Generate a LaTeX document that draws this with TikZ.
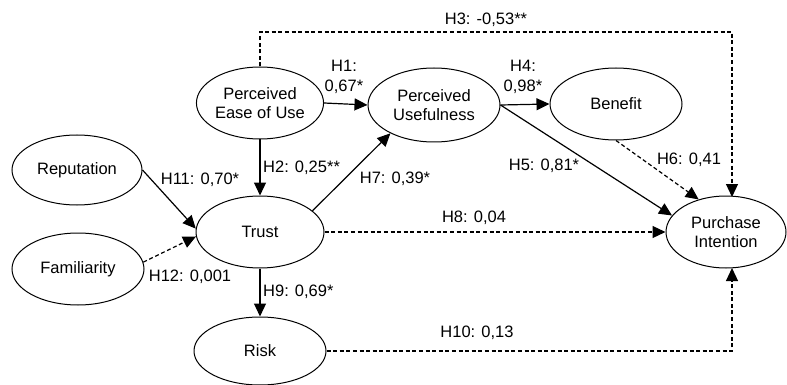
\documentclass[tikz,border=0pt]{standalone}
\usepackage{fontspec}
\setmainfont{Liberation Sans}
\usetikzlibrary{shapes.geometric,arrows.meta}
\begin{document}
\begin{tikzpicture}[x=1pt,y=-1pt,
  construct/.style={ellipse,draw,line width=1pt,inner sep=0pt,align=center,
    font=\fontsize{16.5}{19}\selectfont},
  lbl/.style={inner sep=0pt,align=center,font=\fontsize{16.5}{20}\selectfont},
  solidarr/.style={line width=1.2pt,-{Triangle[length=13pt,width=12pt]}},
  dasharr/.style={line width=1.2pt,dash pattern=on 4pt off 2.6pt,-{Triangle[length=13pt,width=12pt]}}
]
\useasboundingbox (0,0) rectangle (787,385);
% constructs
\node[construct,minimum width=126pt,minimum height=72pt] (peou) at (260,103) {Perceived\\Ease of Use};
\node[construct,minimum width=132pt,minimum height=74pt] (pu) at (434,105) {Perceived\\Usefulness};
\node[construct,minimum width=132pt,minimum height=72pt] (ben) at (616,104) {Benefit};
\node[construct,minimum width=120pt,minimum height=72pt] (pi) at (726,232) {Purchase\\Intention};
\node[construct,minimum width=130pt,minimum height=70pt] (rep) at (77,170) {Reputation};
\node[construct,minimum width=128pt,minimum height=72pt] (trust) at (260,232) {Trust};
\node[construct,minimum width=132pt,minimum height=72pt] (fam) at (78,269) {Familiarity};
\node[construct,minimum width=132pt,minimum height=68pt] (risk) at (260,351) {Risk};
% helper coordinates
\coordinate (h3a) at (260,32);
\coordinate (h3b) at (732,32);
\coordinate (pitop) at (732,197);
\coordinate (h10a) at (732,351);
\coordinate (pibot) at (732,268);
% connectors
\draw[solidarr] (peou.east) -- (pu.west);
\draw[solidarr] (pu.east) -- (ben.west);
\draw[solidarr] (peou.south) -- (trust.north);
\draw[solidarr] (rep.east) -- (trust.177);
\draw[dasharr] (fam.6) -- (trust.184);
\draw[solidarr] (trust.22) -- (pu.213);
\draw[dasharr] (trust.east) -- (pi.west);
\draw[solidarr] (pu.east) -- (pi.163);
\draw[dasharr] (ben.south) -- (pi.130);
\draw[dasharr] (peou.north) -- (h3a) -- (h3b) -- (pitop);
\draw[solidarr] (trust.south) -- (risk.north);
\draw[dasharr] (risk.east) -- (h10a) -- (pibot);
% labels
\node[lbl] (l3) at (486,20) {H3: -0,53**};
\node[lbl] (l1) at (344,77) {H1:\\0,67*};
\node[lbl] (l4) at (523,77) {H4:\\0,98*};
\node[lbl,anchor=west] (l2) at (263,168) {H2: 0,25**};
\node[lbl] (l11) at (200,180) {H11: 0,70*};
\node[lbl] (l12) at (190,277) {H12: 0,001};
\node[lbl] (l7) at (395,179) {H7: 0,39*};
\node[lbl] (l5) at (544,166) {H5: 0,81*};
\node[lbl] (l6) at (689,160) {H6: 0,41};
\node[lbl] (l8) at (474,218) {H8: 0,04};
\node[lbl,anchor=west] (l9) at (263,292) {H9: 0,69*};
\node[lbl] (l10) at (477,333) {H10: 0,13};
\end{tikzpicture}
\end{document}
